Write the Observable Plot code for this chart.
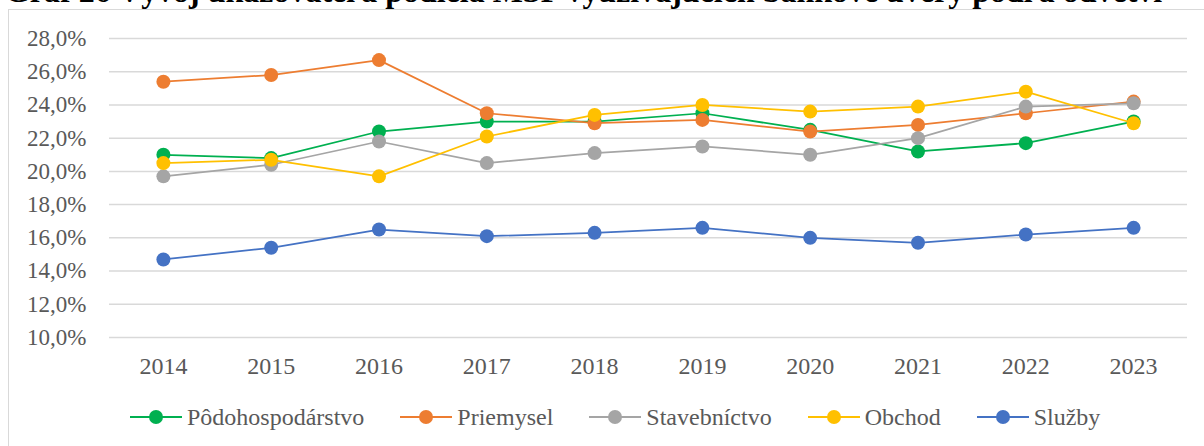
<!DOCTYPE html>
<html>
<head>
<meta charset="utf-8">
<script src="https://cdn.jsdelivr.net/npm/d3@7"></script>
<script src="https://cdn.jsdelivr.net/npm/@observablehq/plot@0.6"></script>
<style>
  body { margin: 0; background: #fff; }
  #wrap { position: relative; width: 1204px; height: 446px; overflow: hidden; background: #fff; }
  #frame { position: absolute; left: 8px; top: 9px; width: 1400px; height: 600px;
           border-top: 1.5px solid #d9d9d9; border-left: 1.5px solid #d9d9d9; }
  #title { position: absolute; left: 5px; white-space: nowrap; font-family: "Times New Roman", "Liberation Serif", Times, serif;
           font-weight: bold; color: #000; }
  #chart { position: absolute; left: 0; top: 0; }
  #legend { position: absolute; left: 130px; top: 402px; height: 30px; display: flex; gap: 36px; align-items: center;
            font-family: "Times New Roman", "Liberation Serif", Times, serif; font-size: 24px; color: #595959; white-space: nowrap; }
  .item { display: flex; align-items: center; }
  .item svg { margin-right: 5px; }
</style>
</head>
<body>
<div id="wrap">
  <div id="frame"></div>
  <div id="chart"></div>
  <div id="title"></div>
  <div id="legend"></div>
</div>
<script>
const titleText = "Graf 26 Vývoj ukazovateľa podiela MSP využívajúcich bankové úvery podľa odvetví";
const years = ["2014","2015","2016","2017","2018","2019","2020","2021","2022","2023"];
const seriesNames = ["Pôdohospodárstvo","Priemysel","Stavebníctvo","Obchod","Služby"];
const seriesColors = ["#00B050","#ED7D31","#A5A5A5","#FFC000","#4472C4"];
const podohospodarstvo = [21.0, 20.8, 22.4, 23.0, 23.0, 23.5, 22.5, 21.2, 21.7, 23.0];
const priemysel        = [25.4, 25.8, 26.7, 23.5, 22.9, 23.1, 22.4, 22.8, 23.5, 24.2];
const stavebnictvo     = [19.7, 20.4, 21.8, 20.5, 21.1, 21.5, 21.0, 22.0, 23.9, 24.1];
const obchod           = [20.5, 20.7, 19.7, 22.1, 23.4, 24.0, 23.6, 23.9, 24.8, 22.9];
const sluzby           = [14.7, 15.4, 16.5, 16.1, 16.3, 16.6, 16.0, 15.7, 16.2, 16.6];
const yTicks = [10, 12, 14, 16, 18, 20, 22, 24, 26, 28];

const seriesValues = [podohospodarstvo, priemysel, stavebnictvo, obchod, sluzby];
const data = [];
seriesNames.forEach((name, i) => {
  years.forEach((yr, j) => data.push({series: name, year: yr, value: seriesValues[i][j]}));
});

const serifFont = "'Times New Roman', 'Liberation Serif', Times, serif";

// title, fitted to the reference width
const tW = 1160;
const ctx = document.createElement("canvas").getContext("2d");
ctx.font = "bold 100px " + serifFont;
const fs = 100 * tW / ctx.measureText(titleText).width;
const title = document.getElementById("title");
title.textContent = titleText;
title.style.fontSize = fs + "px";
title.style.lineHeight = fs + "px";
title.style.top = (3 - 0.8375 * fs) + "px";

const marks = [
  Plot.gridY(yTicks, {stroke: "#d9d9d9", strokeOpacity: 1, strokeWidth: 1.5}),
  Plot.axisY(yTicks, {tickSize: 0, tickPadding: 23, fontSize: 23, tickFormat: d => d.toFixed(1).replace(".", ",") + "%", label: null}),
  Plot.axisX({tickSize: 0, tickPadding: 19, fontSize: 24, label: null})
];
seriesNames.forEach((name, i) => {
  const sub = data.filter(d => d.series === name);
  marks.push(Plot.line(sub, {x: "year", y: "value", stroke: seriesColors[i], strokeWidth: 1.75}));
  marks.push(Plot.dot(sub, {x: "year", y: "value", fill: seriesColors[i], r: 7}));
});

const chart = Plot.plot({
  width: 1204,
  height: 446,
  marginTop: 38,
  marginBottom: 109,
  marginLeft: 109,
  marginRight: 17,
  style: {fontFamily: serifFont, fontSize: "24px", color: "#595959", background: "transparent"},
  x: {type: "point", domain: years, padding: 0.5, round: false},
  y: {domain: [10, 28]},
  marks
});
document.getElementById("chart").appendChild(chart);

const legend = document.getElementById("legend");
seriesNames.forEach((name, i) => {
  const item = document.createElement("div");
  item.className = "item";
  item.innerHTML = `<svg width="52" height="16"><line x1="0" x2="52" y1="8" y2="8" stroke="${seriesColors[i]}" stroke-width="2"/><circle cx="26" cy="8" r="7" fill="${seriesColors[i]}"/></svg><span>${name}</span>`;
  legend.appendChild(item);
});
</script>
</body>
</html>
